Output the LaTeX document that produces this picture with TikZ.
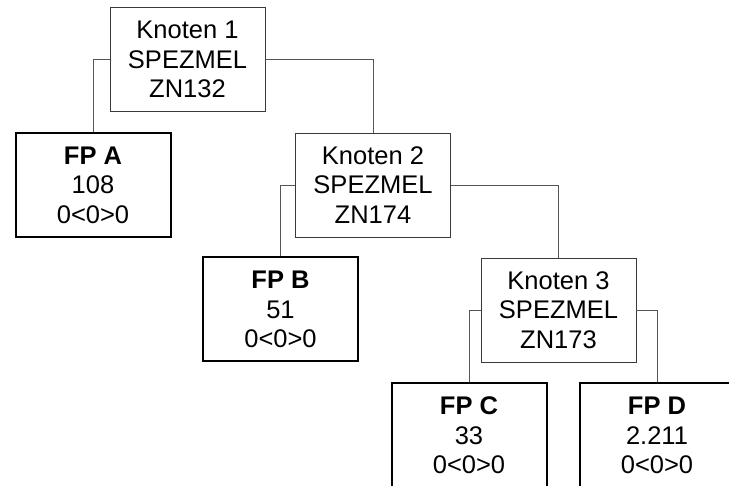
\documentclass[tikz,border=0pt]{standalone}
\usepackage{fontspec}
\setmainfont{Liberation Sans}
\definecolor{linegray}{HTML}{555555}
\definecolor{boxgray}{HTML}{3A3A3A}
\begin{document}
\begin{tikzpicture}[x = 1pt, y = -1pt,
		knoten/.style = {draw = boxgray, line width = 0.9pt, minimum width = 155pt, minimum height = 104pt, align = center, inner sep = 0pt, font = \fontsize{25.5}{29.5}\selectfont, execute at begin node = {\rule{0pt}{24pt}}},
		blatt/.style = {knoten, draw = black, line width = 2pt},
		ast/.style = {linegray, line width = 0.8pt}]
		\useasboundingbox (0,0) rectangle (729,486);
		\node [knoten] (k1) at (187.5,59.5) {Knoten 1\\SPEZMEL\\ZN132};
		\node [blatt] (fpa) at (93,185) {\textbf{FP A}\\108\\0<0>0};
		\node [knoten] (k2) at (373,185) {Knoten 2\\SPEZMEL\\ZN174};
		\node [blatt] (fpb) at (280.5,309.5) {\textbf{FP B}\\51\\0<0>0};
		\node [knoten] (k3) at (558.5,310) {Knoten 3\\SPEZMEL\\ZN173};
		\node [blatt] (fpc) at (469,435.5) {\textbf{FP C}\\33\\0<0>0};
		\node [blatt] (fpd) at (657,435.5) {\textbf{FP D}\\2.211\\0<0>0};
		% Aeste
		\draw [ast] (k1.west) -| (fpa.north);
		\draw [ast] (k1.east) -| (k2.north);
		\draw [ast] (k2.west) -| (fpb.north);
		\draw [ast] (k2.east) -| (k3.north);
		\draw [ast] (k3.west) -| (fpc.north);
		\draw [ast] (k3.east) -| (fpd.north);
\end{tikzpicture}
\end{document}
